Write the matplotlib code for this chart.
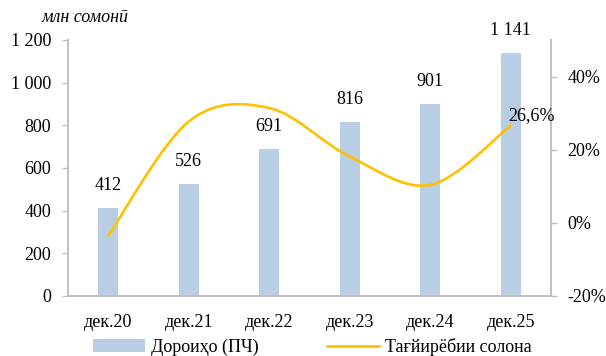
import matplotlib
matplotlib.use("Agg")
import matplotlib.pyplot as plt
import numpy as np
from matplotlib.path import Path
from matplotlib.patches import PathPatch
from matplotlib.lines import Line2D
from matplotlib.patches import Patch

categories = ["дек.20", "дек.21", "дек.22", "дек.23", "дек.24", "дек.25"]
deposits = [412, 526, 691, 816, 901, 1141]
growth = [-3.5, 27.7, 31.4, 18.1, 10.4, 26.6]
left_ticks = [0, 200, 400, 600, 800, 1000, 1200]
right_ticks = [-20, 0, 20, 40]

BAR_COLOR = "#B9CDE5"
LINE_COLOR = "#FFC000"
SPINE_COLOR = "#BFBFBF"

plt.rcParams["font.family"] = ["Liberation Serif", "DejaVu Serif"]
plt.rcParams["font.size"] = 13


def fmt_num(v):
    return f"{v:,.0f}".replace(",", " ")


def smooth_path(xs, ys):
    # excel-style smoothed line: cubic bezier with catmull-rom control points
    pts = np.column_stack([xs, ys]).astype(float)
    verts = [pts[0]]
    codes = [Path.MOVETO]
    n = len(pts)
    for i in range(n - 1):
        p0 = pts[i - 1] if i > 0 else pts[i]
        p1 = pts[i]
        p2 = pts[i + 1]
        p3 = pts[i + 2] if i + 2 < n else pts[i + 1]
        c1 = p1 + (p2 - p0) / 6
        c2 = p2 - (p3 - p1) / 6
        verts += [c1, c2, p2]
        codes += [Path.CURVE4] * 3
    return Path(verts, codes)


fig = plt.figure(figsize=(6.06, 3.56), dpi=100)
ax = fig.add_axes([68 / 606, 1 - 296 / 356, (551 - 68) / 606, (296 - 40) / 356])
ax2 = ax.twinx()

x = np.arange(len(categories))
ax.bar(x, deposits, width=0.25, color=BAR_COLOR, zorder=1)
for xi, v in zip(x, deposits):
    ax.annotate(fmt_num(v), (xi, v), xytext=(0, 10), textcoords="offset points",
                ha="center", va="bottom", fontsize=13, annotation_clip=False)

ax.set_xlim(-0.5, len(categories) - 0.5)
ax.set_ylim(0, 1200)
ax.set_yticks(left_ticks)
ax.set_yticklabels([fmt_num(t) for t in left_ticks])
ax.set_xticks(x)
ax.set_xticklabels(categories)
ax.tick_params(axis="x", length=0, pad=13)
ax.tick_params(axis="y", length=4, width=1, color=SPINE_COLOR, pad=8)

ax2.set_ylim(-20, 50)
ax2.set_yticks(right_ticks)
ax2.set_yticklabels([f"{t}%" for t in right_ticks])
ax2.tick_params(axis="y", length=4, width=1, color=SPINE_COLOR, pad=8)
ax2.add_patch(PathPatch(smooth_path(x, growth), facecolor="none", edgecolor=LINE_COLOR,
                        lw=1.9, capstyle="round", zorder=3))
ax2.annotate(f"{growth[-1]:.1f}%".replace(".", ","), (x[-1], growth[-1]),
             xytext=(-2, 1), textcoords="offset points", ha="left", va="bottom",
             fontsize=13, annotation_clip=False)

for a in (ax, ax2):
    a.spines["top"].set_visible(False)
    for side in ("left", "right", "bottom"):
        a.spines[side].set_color(SPINE_COLOR)
        a.spines[side].set_linewidth(1.4)
ax.spines["right"].set_visible(False)
ax2.spines["left"].set_visible(False)
ax2.spines["bottom"].set_visible(False)

fig.text(42 / 606, 1 - 17 / 356, "млн сомонӣ", style="italic", fontsize=13,
         ha="left", va="center")

handles = [Patch(facecolor=BAR_COLOR, edgecolor="none"),
           Line2D([0], [0], color=LINE_COLOR, lw=1.9)]
fig.legend(handles, ["Дороиҳо (ПЧ)", "Тағйирёбии солона"], loc="center",
           bbox_to_anchor=(312 / 606, 1 - 347 / 356), ncol=2, frameon=False,
           handlelength=2.9, handletextpad=0.3, columnspacing=3.8, fontsize=13,
           borderpad=0, borderaxespad=0)

fig.savefig("out.png", dpi=100)
